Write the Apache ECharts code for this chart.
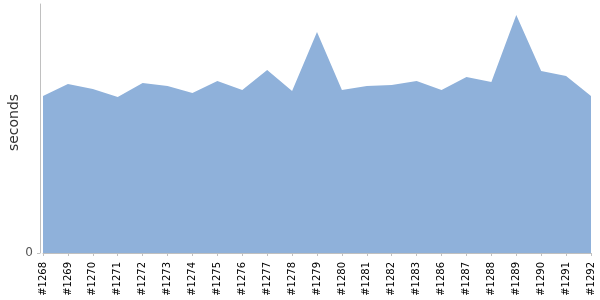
<!DOCTYPE html>
<html>
<head>
<meta charset="utf-8">
<script src="https://cdn.jsdelivr.net/npm/echarts@6/dist/echarts.min.js"></script>
<style>
  html, body { margin: 0; padding: 0; background: #fff; }
  #chart { width: 600px; height: 300px; }
</style>
</head>
<body>
<div id="chart"></div>
<script>
// === DATA ===
const builds = ['#1268', '#1269', '#1270', '#1271', '#1272', '#1273', '#1274', '#1275',
    '#1276', '#1277', '#1278', '#1279', '#1280', '#1281', '#1282', '#1283', '#1286',
    '#1287', '#1288', '#1289', '#1290', '#1291', '#1292'];
const durations = [157, 169, 164, 156, 170, 167, 160, 172, 163, 183, 162, 221, 163,
    167, 168, 172, 163, 176, 171, 238, 182, 177, 157];
const yMax = 249;

// === CHART ===
const chart = echarts.init(document.getElementById('chart'));
chart.setOption({
    animation: false,
    grid: { left: 43, right: 9, top: 4, bottom: 47, outerBoundsMode: 'none', containLabel: false },
    xAxis: {
        type: 'category',
        data: builds,
        boundaryGap: false,
        offset: 4,
        axisLine: { lineStyle: { color: '#c0c0c0' } },
        axisTick: { alignWithLabel: true, length: 3, lineStyle: { color: '#c0c0c0' } },
        axisLabel: {
            rotate: 90, interval: 0, margin: 5,
            color: '#000', fontSize: 10, fontFamily: 'DejaVu Sans'
        },
        splitLine: { show: false }
    },
    yAxis: {
        type: 'value',
        min: 0,
        max: yMax,
        offset: 3,
        name: 'seconds',
        nameLocation: 'middle',
        nameGap: 19,
        nameMoveOverlap: false,
        nameTextStyle: { color: '#333', fontSize: 14, fontFamily: 'DejaVu Sans', padding: [0, 0, 0, 12] },
        axisLine: { show: true, lineStyle: { color: '#c0c0c0' } },
        axisTick: { show: true, length: 3, customValues: [0], lineStyle: { color: '#c0c0c0' } },
        axisLabel: { customValues: [0], color: '#555', fontSize: 12, margin: 7, fontFamily: 'DejaVu Sans' },
        splitLine: { show: false }
    },
    series: [{
        type: 'line',
        data: durations,
        symbol: 'none',
        lineStyle: { width: 0 },
        areaStyle: { color: '#8fb1da', opacity: 1 }
    }]
});
</script>
</body>
</html>
